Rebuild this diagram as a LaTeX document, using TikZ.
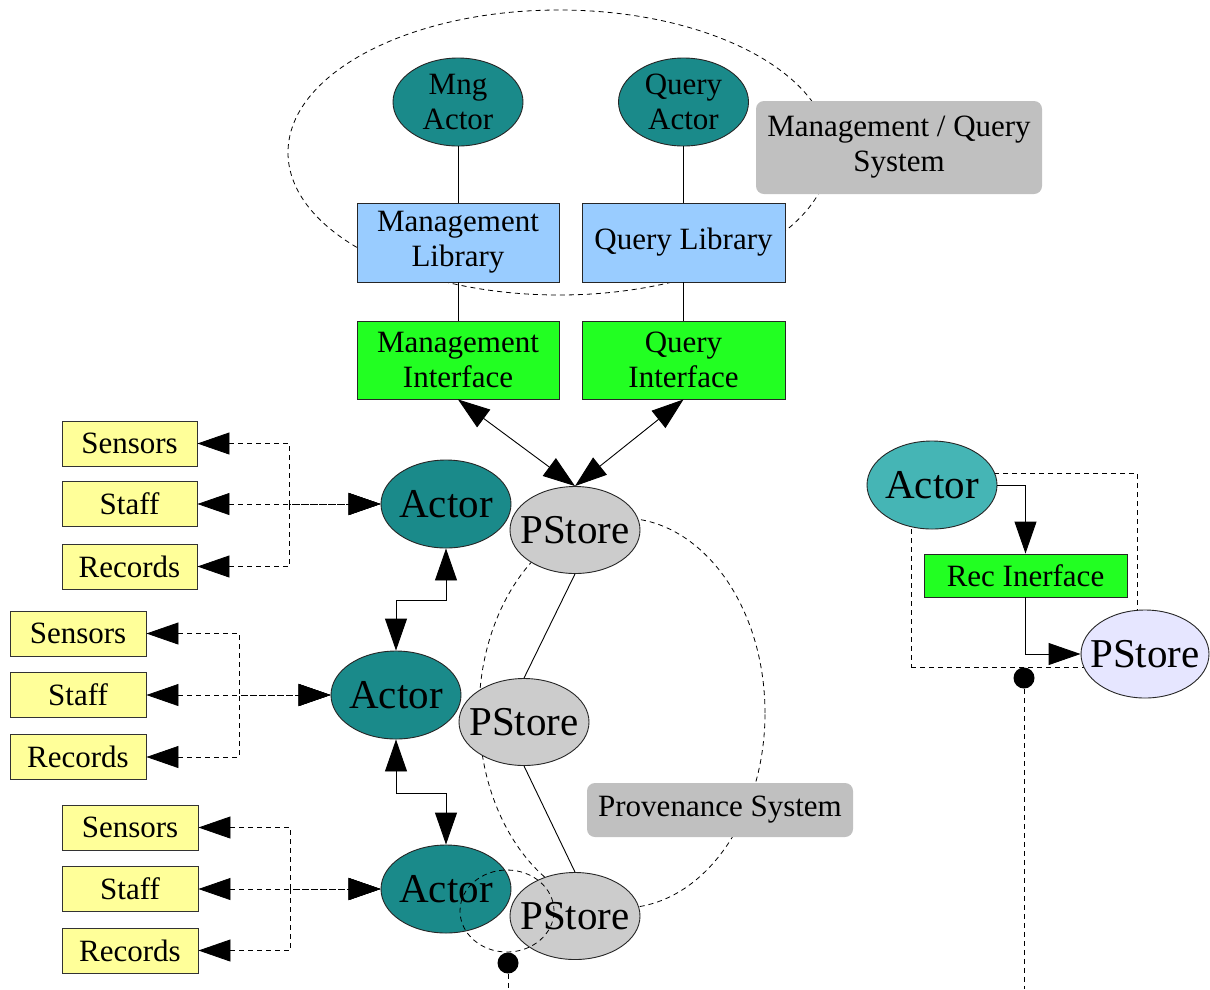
\documentclass[tikz,border=0pt]{standalone}
\usepackage{fontspec}
\setmainfont{Liberation Serif}
\usetikzlibrary{shapes.geometric,arrows.meta}
\definecolor{actorteal}{RGB}{26,138,138}
\definecolor{actorlight}{RGB}{69,181,181}
\definecolor{storegray}{RGB}{204,204,204}
\definecolor{storelav}{RGB}{230,230,255}
\definecolor{srcyellow}{RGB}{255,255,153}
\definecolor{libblue}{RGB}{153,204,255}
\definecolor{ifgreen}{RGB}{34,255,34}
\definecolor{taggray}{RGB}{192,192,192}
% keep wide labels from enlarging their ellipse
\newcommand{\squeeze}[1]{\makebox[20pt]{#1}}
\begin{document}
\begin{tikzpicture}[x=1pt,y=-1pt,
  >={Triangle[length=32pt,width=22pt]},
  line width=0.9pt,
  every node/.style={font=\fontsize{31}{35}\selectfont},
  dsh/.style={dash pattern=on 5pt off 4pt, line width=0.8pt},
  actor/.style={ellipse, draw=black!85, fill=actorteal, minimum width=130pt,
    minimum height=88pt, inner sep=0pt, font=\fontsize{41}{45}\selectfont},
  pstore/.style={ellipse, draw=black!85, fill=storegray, minimum width=130pt,
    minimum height=87pt, inner sep=0pt, font=\fontsize{41}{45}\selectfont},
  srcbox/.style={rectangle, draw=black!80, fill=srcyellow, minimum width=135pt,
    minimum height=45pt, inner sep=0pt},
  libbox/.style={rectangle, draw=black!85, fill=libblue, minimum width=202pt,
    minimum height=79pt, inner sep=0pt, align=center},
  ifbox/.style={rectangle, draw=black!85, fill=ifgreen, minimum width=202pt,
    minimum height=78pt, inner sep=0pt, align=center},
  tagbox/.style={rectangle, rounded corners=8pt, fill=taggray, inner sep=0pt, align=center},
  group/.style={draw, dsh},
  blob/.style={circle, fill=black, minimum size=21pt, inner sep=0pt}
]
\useasboundingbox (0,0) rectangle (1210,989);
\fill[white] (0,0) rectangle (1210,989);

% system outlines (behind everything)
\node[group, ellipse, minimum width=542pt, minimum height=285pt, inner sep=0pt] (mqsys) at (559,152.5) {};
\node[group, ellipse, minimum width=286pt, minimum height=390pt, inner sep=0pt] (provsys) at (622,713) {};
\node[group, rectangle, minimum width=226pt, minimum height=194pt, inner sep=0pt] (recgrp) at (1024,570) {};

% management / query side
\node[actor, font=\fontsize{31}{35}\selectfont, align=center] (mngact) at (458,102) {Mng\\Actor};
\node[actor, font=\fontsize{31}{35}\selectfont, align=center] (qact) at (683.5,102) {Query\\Actor};
\node[libbox] (mnglib) at (458,242.5) {Management\\Library};
\node[libbox, minimum width=203pt] (qlib) at (683.5,242.5) {Query Library};
\node[ifbox] (mngif) at (458,360) {Management\\Interface};
\node[ifbox, minimum width=203pt] (qif) at (683.5,360) {Query\\Interface};
\node[tagbox, minimum width=286pt, minimum height=93pt] (mqtag) at (899,147.5) {Management / Query\\System};

% provenance stores
\node[pstore] (ps1) at (575,530) {\squeeze{PStore}};
\node[pstore] (ps2) at (524,722) {\squeeze{PStore}};
\node[pstore] (ps3) at (575,916) {\squeeze{PStore}};
\node[tagbox, minimum width=266pt, minimum height=54pt] (provtag) at (720,810) {Provenance System};

% actors
\node[actor] (a1) at (446,504) {\squeeze{Actor}};
\node[actor] (a2) at (396,695) {\squeeze{Actor}};
\node[actor] (a3) at (446,889) {\squeeze{Actor}};

% data sources
\node[srcbox] (s1) at (129.5,443.5) {Sensors};
\node[srcbox] (t1) at (129.5,504) {Staff};
\node[srcbox] (r1) at (129.5,566.5) {Records};
\node[srcbox, minimum width=136pt] (s2) at (78,633.5) {Sensors};
\node[srcbox, minimum width=136pt] (t2) at (78,695) {Staff};
\node[srcbox, minimum width=136pt] (r2) at (78,757) {Records};
\node[srcbox, minimum width=136pt] (s3) at (130,827.5) {Sensors};
\node[srcbox, minimum width=136pt] (t3) at (130,889) {Staff};
\node[srcbox, minimum width=136pt] (r3) at (130,950.5) {Records};

% recording example
\node[actor, fill=actorlight] (ra) at (932,485) {\squeeze{Actor}};
\node[ifbox, minimum width=203pt, minimum height=43pt] (rec) at (1025.5,575.5) {Rec Inerface};
\node[pstore, fill=storelav, minimum width=128pt, minimum height=88pt] (rps) at (1145,654) {\squeeze{PStore}};

% plain links
\draw (mngact.south) -- (mnglib.north);
\draw (qact.south) -- (qlib.north);
\draw (mnglib.south) -- (mngif.north);
\draw (qlib.south) -- (qif.north);
\draw (ps1.south) -- (ps2.north);
\draw (ps2.south) -- (ps3.north);

% interfaces to the store
\draw[<->] (mngif.south) -- (ps1.north);
\draw[<->] (qif.south) -- (ps1.north);

% actor chain
\draw[<->] (a1.south) -- ++(0,52) -| (a2.north);
\draw[<->] (a2.south) -- ++(0,54) -| (a3.north);

% actors to their sources
\draw[dsh,<->] (s1.east) -- ++(92,0) |- (a1.west);
\draw[dsh,<->] (t1.east) -- (a1.west);
\draw[dsh,<->] (r1.east) -- ++(92,0) |- (a1.west);
\draw[dsh,<->] (s2.east) -- ++(93,0) |- (a2.west);
\draw[dsh,<->] (t2.east) -- (a2.west);
\draw[dsh,<->] (r2.east) -- ++(93,0) |- (a2.west);
\draw[dsh,<->] (s3.east) -- ++(92,0) |- (a3.west);
\draw[dsh,<->] (t3.east) -- (a3.west);
\draw[dsh,<->] (r3.east) -- ++(92,0) |- (a3.west);

% recording flow
\draw[->] (ra.east) -| (rec.north);
\draw[->] (rec.south) |- (rps.west);

% local grouping of the last actor and its store
\node[group, ellipse, minimum width=94pt, minimum height=82pt, inner sep=0pt] (pgrp) at (507,911) {};

% attachment points
\node[blob] (dot1) at (508,963) {};
\coordinate (end1) at (508,989);
\draw[dsh] (dot1) -- (end1);
\node[blob] (dot2) at (1024,678) {};
\coordinate (end2) at (1024,989);
\draw[dsh] (dot2) -- (end2);
\end{tikzpicture}
\end{document}
